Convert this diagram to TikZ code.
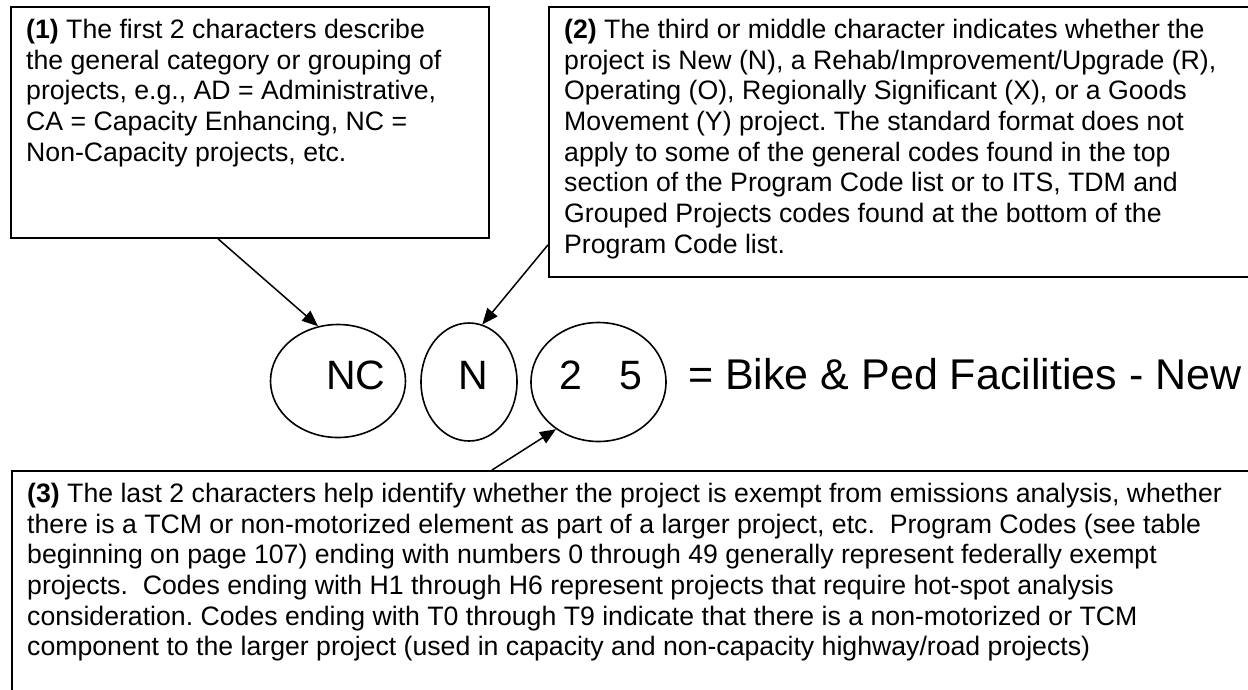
\documentclass[tikz,border=0pt]{standalone}
\usepackage{fontspec}
\setmainfont{Liberation Sans}
\usetikzlibrary{arrows.meta,shapes.geometric,calc}
\frenchspacing
\begin{document}
\begin{tikzpicture}[x=1pt,y=-1pt,
  box/.style={draw, line width=1.8pt, anchor=north west, inner sep=0pt},
  txt/.style={anchor=north west, align=left, inner sep=0pt, font=\fontsize{26.67}{30.7}\selectfont},
  oval/.style={draw, ellipse, line width=1.6pt, inner sep=0pt},
  big/.style={inner sep=0pt, anchor=base, font=\fontsize{41}{45}\selectfont},
  arr/.style={line width=1.5pt, -{Triangle[length=16pt,width=13pt]}}]
\useasboundingbox (0,0) rectangle (1248,689);
% boxes
\node[box, minimum width=478pt, minimum height=231pt] (b1) at (10,6) {};
\node[box, minimum width=720pt, minimum height=270pt] (b2) at (548,6) {};
\node[box, minimum width=1260pt, minimum height=240pt] (b3) at (11,470) {};
% texts
\node[txt] (t1) at (26,14) {\rule{0pt}{24.1pt}\textbf{(1)} The first 2 characters describe\\
the general category or grouping of\\
projects, e.g., AD = Administrative,\\
CA = Capacity Enhancing, NC =\\
Non-Capacity projects, etc.};
\node[txt] (t2) at (564,14) {\rule{0pt}{24.1pt}\textbf{(2)} The third or middle character indicates whether the\\
project is New (N), a Rehab/Improvement/Upgrade (R),\\
Operating (O), Regionally Significant (X), or a Goods\\
Movement (Y) project. The standard format does not\\
apply to some of the general codes found in the top\\
section of the Program Code list or to ITS, TDM and\\
Grouped Projects codes found at the bottom of the\\
Program Code list.};
\node[txt] (t3) at (27,478) {\rule{0pt}{24.1pt}\textbf{(3)} The last 2 characters help identify whether the project is exempt from emissions analysis, whether\\
there is a TCM or non-motorized element as part of a larger project, etc.~ Program Codes (see table\\
beginning on page 107) ending with numbers 0 through 49 generally represent federally exempt\\
projects.~ Codes ending with H1 through H6 represent projects that require hot-spot analysis\\
consideration. Codes ending with T0 through T9 indicate that there is a non-motorized or TCM\\
component to the larger project (used in capacity and non-capacity highway/road projects)};
% ellipses
\node[oval, minimum width=135pt, minimum height=113pt] (nc) at (338,381) {};
\node[oval, minimum width=96pt, minimum height=118pt] (nn) at (469,382) {};
\node[oval, minimum width=135pt, minimum height=119pt] (nd) at (598.5,382) {};
\node[big] (lnc) at (356,389) {NC};
\node[big] (lnn) at (473,389) {N};
\node[big] (lnd) at (601,389) {2\hspace*{37pt}5};
\node[inner sep=0pt, anchor=base west, font=\fontsize{43}{47}\selectfont] (eq) at (688,389) {= Bike \& Ped Facilities - New};
% arrows
\coordinate (s1) at ($(b1.south west)+(208,0)$);
\coordinate (s2) at ($(b2.south west)+(0,-33)$);
\coordinate (s3) at ($(b3.north west)+(481,0)$);
\draw[arr] (s1) -- (nc.110);
\draw[arr] (s2) -- (nn.77);
\draw[arr] (s3) -- (nd.228);
\end{tikzpicture}
\end{document}
